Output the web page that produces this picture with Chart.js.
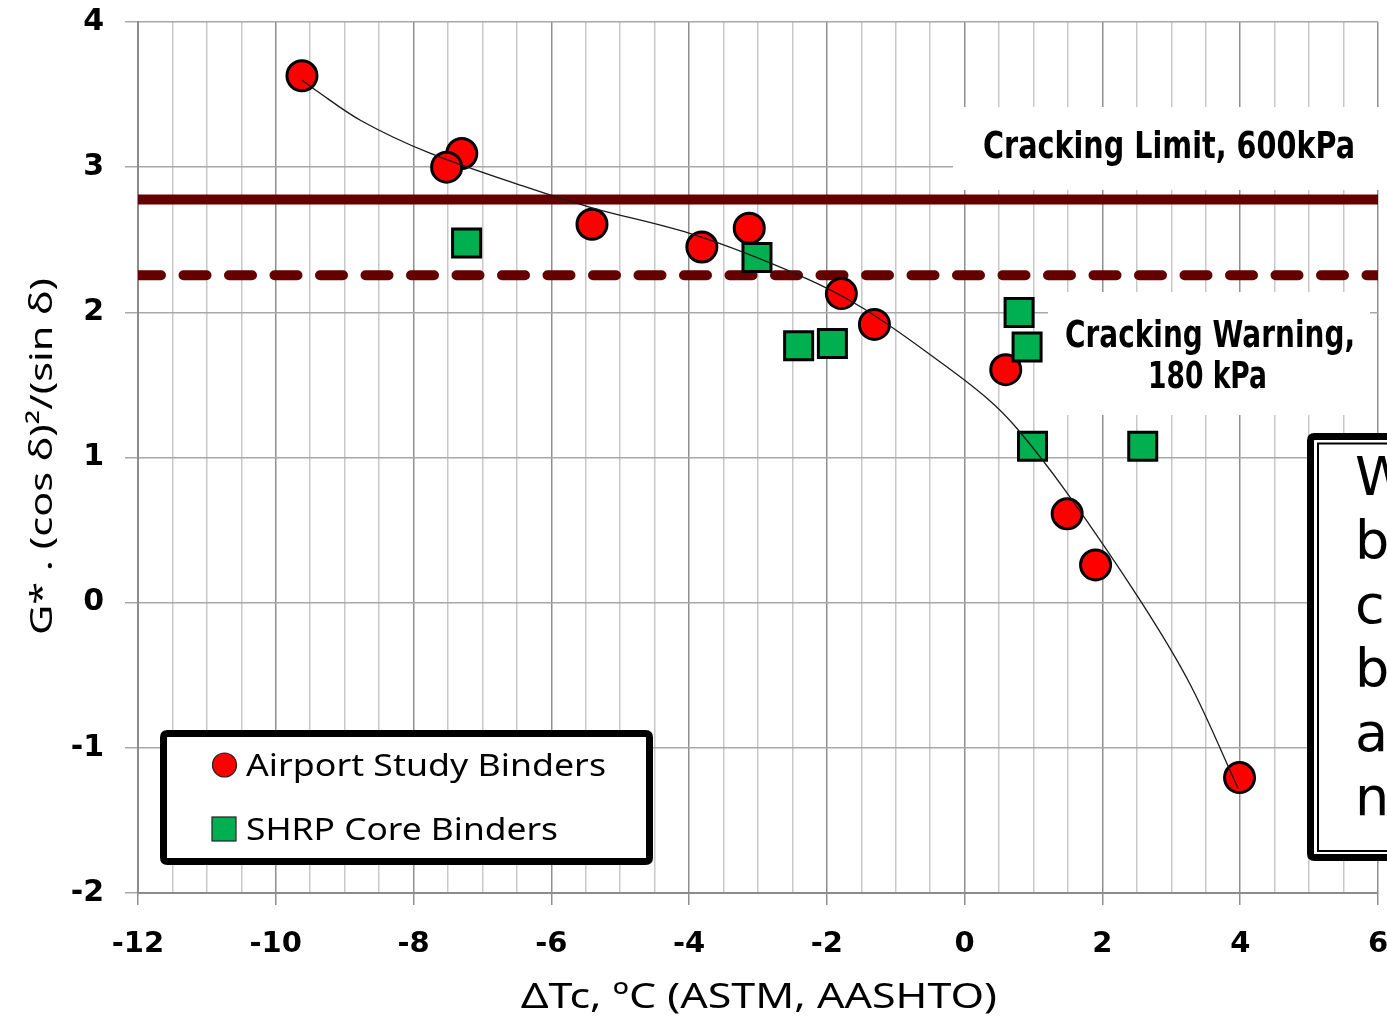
<!DOCTYPE html>
<html>
<head>
<meta charset="utf-8">
<script src="https://cdn.jsdelivr.net/npm/chart.js@4.4.1/dist/chart.umd.min.js"></script>
<style>
  html, body { margin: 0; padding: 0; background: #ffffff; }
  #wrap { width: 1387px; height: 1018px; }
</style>
</head>
<body>
<div id="wrap"><canvas id="chart" width="1387" height="1018"></canvas></div>
<script>
// ΔTc (°C) vs log G*·(cos δ)²/(sin δ)
const airportX = [-9.62, -7.30, -7.52, -5.41, -3.815, -3.127, -1.79, -1.31, 0.596, 1.488, 1.90, 3.99];
const airportY = [3.63, 3.094, 3.00, 2.607, 2.45, 2.58, 2.129, 1.917, 1.605, 0.612, 0.26, -1.205];

const shrpX = [-7.23, -3.015, -2.41, -1.92, 0.79, 0.906, 0.985, 2.585];
const shrpY = [2.478, 2.377, 1.77, 1.786, 1.998, 1.761, 1.078, 1.078];

// fitted trend through the airport binders
const trendX = [-9.62, -9.42, -8.76, -7.78, -6.35, -5.41, -3.9, -2.4, -1.48, -0.36, 0.32, 0.76, 1.48, 2.55, 3.27, 3.97];
const trendY = [3.60, 3.53, 3.32, 3.10, 2.86, 2.72, 2.53, 2.255, 2.03, 1.66, 1.41, 1.20, 0.76, 0.014, -0.56, -1.28];

// criteria levels: log10(600 kPa) and log10(180 kPa)
const limitLevel = 2.778;
const warningLevel = 2.255;

const xRange = [-12, 6];
const yRange = [-2, 4];

const xTitle = 'ΔTc, ºC (ASTM, AASHTO)';
const yTitle = 'G* . (cos δ)²/(sin δ)';
const seriesNames = ['Airport Study Binders', 'SHRP Core Binders'];
const limitText = 'Cracking Limit, 600kPa';
const warningText = ['Cracking Warning,', '180 kPa'];
const sideNoteLines = ['W', 'b', 'co', 'b', 'a', 'n'];

const toPoints = (xs, ys) => xs.map((x, i) => ({ x: x, y: ys[i] }));

const RED = '#ff0000';
const GREEN = '#00b050';
const CRIT = '#640000';

function fitText(ctx, text, x, y, font, width, align, rotate) {
  ctx.save();
  ctx.font = font;
  const w = ctx.measureText(text).width;
  ctx.translate(x, y);
  if (rotate) ctx.rotate(rotate);
  ctx.scale(width / w, 1);
  ctx.textAlign = align;
  ctx.textBaseline = 'alphabetic';
  ctx.fillStyle = '#000';
  ctx.fillText(text, 0, 0);
  ctx.restore();
}

function roundRect(ctx, x, y, w, h, r) {
  ctx.beginPath();
  ctx.moveTo(x + r, y);
  ctx.lineTo(x + w - r, y);
  ctx.quadraticCurveTo(x + w, y, x + w, y + r);
  ctx.lineTo(x + w, y + h - r);
  ctx.quadraticCurveTo(x + w, y + h, x + w - r, y + h);
  ctx.lineTo(x + r, y + h);
  ctx.quadraticCurveTo(x, y + h, x, y + h - r);
  ctx.lineTo(x, y + r);
  ctx.quadraticCurveTo(x, y, x + r, y);
  ctx.closePath();
}

const decorations = {
  id: 'decorations',
  beforeDatasetsDraw(chart) {
    const ctx = chart.ctx;
    ctx.save();
    ctx.fillStyle = '#ffffff';
    // label backgrounds
    ctx.fillRect(953, 107, 440, 83);
    ctx.fillRect(1048, 292, 322, 123);
    ctx.restore();
  },
  afterDatasetsDraw(chart) {
    const ctx = chart.ctx;
    const boldFont = 'bold 38px "DejaVu Sans"';
    fitText(ctx, limitText, 983, 158, boldFont, 372, 'left');
    fitText(ctx, warningText[0], 1065, 347, boldFont, 290, 'left');
    fitText(ctx, warningText[1], 1148, 388, boldFont, 119, 'left');

    // legend
    ctx.save();
    ctx.fillStyle = '#ffffff';
    roundRect(ctx, 163.5, 733.5, 486, 128, 4);
    ctx.fill();
    ctx.lineWidth = 7;
    ctx.strokeStyle = '#000';
    ctx.stroke();
    ctx.beginPath();
    ctx.arc(224.5, 765, 12, 0, Math.PI * 2);
    ctx.fillStyle = RED;
    ctx.fill();
    ctx.lineWidth = 1.2;
    ctx.strokeStyle = '#222';
    ctx.stroke();
    ctx.fillStyle = GREEN;
    ctx.fillRect(212, 817, 24, 24);
    ctx.strokeRect(212, 817, 24, 24);
    ctx.restore();
    const legFont = '31px "Noto Sans"';
    fitText(ctx, seriesNames[0], 246, 776, legFont, 360, 'left');
    fitText(ctx, seriesNames[1], 246, 840, legFont, 312, 'left');

    // side note panel
    ctx.save();
    ctx.fillStyle = '#ffffff';
    roundRect(ctx, 1310.5, 436.5, 120, 421, 4);
    ctx.fill();
    ctx.lineWidth = 7;
    ctx.strokeStyle = '#000';
    ctx.stroke();
    ctx.lineWidth = 2;
    ctx.strokeRect(1318, 443.5, 120, 407.5);
    ctx.font = '54px "DejaVu Sans"';
    ctx.fillStyle = '#000';
    ctx.textAlign = 'left';
    ctx.textBaseline = 'alphabetic';
    sideNoteLines.forEach((t, i) => ctx.fillText(t, 1355, 495 + i * 64));
    ctx.restore();
  },
  afterDraw(chart) {
    const ctx = chart.ctx;
    fitText(ctx, xTitle, 759, 1008, '35px "Noto Sans"', 476, 'center');
    fitText(ctx, yTitle, 52, 456.5, '31px "Noto Sans"', 357, 'center', -Math.PI / 2);
  }
};

const ctx = document.getElementById('chart').getContext('2d');
new Chart(ctx, {
  type: 'scatter',
  data: {
    datasets: [
      {
        label: 'trend',
        type: 'line',
        data: toPoints(trendX, trendY),
        borderColor: '#1a1a1a',
        borderWidth: 1.3,
        pointRadius: 0,
        tension: 0.35,
        fill: false,
        order: 0
      },
      {
        label: seriesNames[1],
        data: toPoints(shrpX, shrpY),
        pointStyle: 'rect',
        pointRadius: 19.8,
        backgroundColor: GREEN,
        borderColor: '#000',
        borderWidth: 3,
        order: 1
      },
      {
        label: seriesNames[0],
        data: toPoints(airportX, airportY),
        pointStyle: 'circle',
        pointRadius: 15,
        backgroundColor: RED,
        borderColor: '#000',
        borderWidth: 3,
        order: 2
      },
      {
        label: 'limit',
        type: 'line',
        data: [{ x: xRange[0], y: limitLevel }, { x: xRange[1], y: limitLevel }],
        borderColor: CRIT,
        borderWidth: 10,
        borderCapStyle: 'butt',
        pointRadius: 0,
        clip: 0,
        order: 3
      },
      {
        label: 'warning',
        type: 'line',
        data: [{ x: xRange[0], y: warningLevel }, { x: xRange[1], y: warningLevel }],
        borderColor: CRIT,
        borderWidth: 10,
        borderDash: [23, 22.5],
        borderCapStyle: 'round',
        pointRadius: 0,
        clip: 0,
        order: 3
      }
    ]
  },
  options: {
    responsive: false,
    animation: false,
    devicePixelRatio: 1,
    layout: { autoPadding: false, padding: { left: 0, top: 22, right: 9, bottom: 0 } },
    plugins: { legend: { display: false }, tooltip: { enabled: false } },
    scales: {
      x: {
        type: 'linear',
        position: 'bottom',
        min: xRange[0],
        max: xRange[1],
        afterFit(scale) { scale.height = 125; scale.paddingLeft = 0; scale.paddingRight = 0; },
        border: { color: '#8c8c8c', width: 2 },
        grid: {
          color: (c) => (c.tick && c.tick.value % 2 === 0 ? '#8f8f8f' : '#c8c8c8'),
          tickColor: (c) => (c.tick && c.tick.value % 2 === 0 ? '#8f8f8f' : 'rgba(0,0,0,0)'),
          lineWidth: 1.5,
          tickLength: 12
        },
        ticks: {
          stepSize: 0.5,
          autoSkip: false,
          maxRotation: 0,
          padding: 22,
          color: '#000',
          font: { family: '"DejaVu Sans"', size: 29, weight: 'bold' },
          callback: (v) => (v % 2 === 0 ? String(v) : '')
        }
      },
      y: {
        type: 'linear',
        min: yRange[0],
        max: yRange[1],
        afterFit(scale) { scale.width = 138; scale.paddingTop = 0; scale.paddingBottom = 0; },
        border: { color: '#8c8c8c', width: 2 },
        grid: {
          color: '#a8a8a8',
          tickColor: '#a8a8a8',
          lineWidth: 1.5,
          tickLength: 13
        },
        ticks: {
          stepSize: 1,
          padding: 21,
          color: '#000',
          font: { family: '"DejaVu Sans"', size: 30, weight: 'bold' },
          callback: (v) => String(v)
        }
      }
    }
  },
  plugins: [decorations]
});
</script>
</body>
</html>
